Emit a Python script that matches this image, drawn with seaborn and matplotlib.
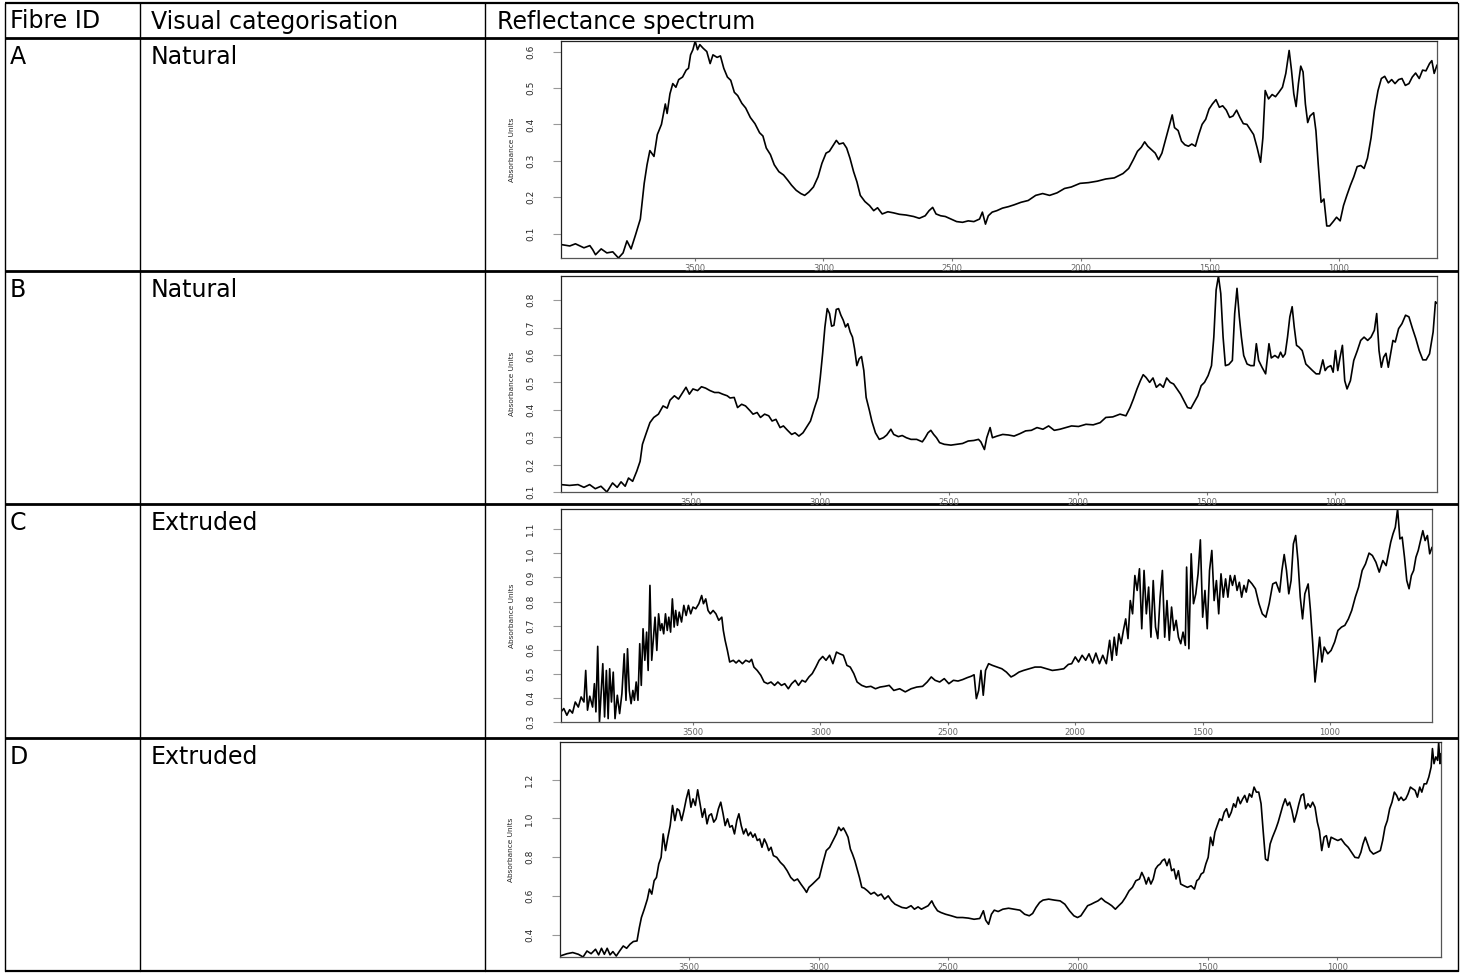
import numpy as np
import pandas as pd
import matplotlib
matplotlib.use("Agg")
import matplotlib.pyplot as plt
import seaborn as sns
from matplotlib.lines import Line2D

sns.set_theme(style="ticks")
plt.rcParams["font.family"] = ["DejaVu Sans"]

# ---- table content -------------------------------------------------------
headers = ["Fibre ID", "Visual categorisation", "Reflectance spectrum"]
fibre_ids = ["A", "B", "C", "D"]
categories = ["Natural", "Natural", "Extruded", "Extruded"]

# ---- spectra: (wavenumber cm-1, absorbance units) ---------------------------
spectrum_a = [
    (4019, 0.070), (3985, 0.066), (3963, 0.072), (3930, 0.061), (3907, 0.067), (3896, 0.056),
    (3885, 0.042), (3863, 0.058), (3841, 0.047), (3818, 0.050), (3796, 0.033), (3778, 0.047),
    (3763, 0.080), (3747, 0.058), (3729, 0.098), (3711, 0.140), (3696, 0.238), (3685, 0.289),
    (3674, 0.328), (3658, 0.312), (3645, 0.372), (3629, 0.400), (3614, 0.456), (3607, 0.430),
    (3596, 0.484), (3585, 0.512), (3573, 0.502), (3562, 0.523), (3547, 0.530), (3533, 0.549),
    (3524, 0.554), (3516, 0.591), (3507, 0.605), (3498, 0.629), (3489, 0.605), (3480, 0.619),
    (3467, 0.609), (3453, 0.600), (3440, 0.567), (3429, 0.591), (3413, 0.584), (3400, 0.588),
    (3387, 0.554), (3373, 0.530), (3360, 0.521), (3346, 0.488), (3333, 0.479), (3317, 0.458),
    (3302, 0.445), (3284, 0.419), (3266, 0.402), (3248, 0.377), (3235, 0.368), (3222, 0.335),
    (3206, 0.317), (3191, 0.289), (3173, 0.270), (3155, 0.261), (3139, 0.247), (3124, 0.233),
    (3106, 0.219), (3088, 0.210), (3073, 0.205), (3057, 0.214), (3039, 0.228), (3021, 0.256),
    (3006, 0.293), (2990, 0.321), (2977, 0.326), (2961, 0.344), (2950, 0.356), (2939, 0.346),
    (2923, 0.349), (2910, 0.335), (2897, 0.307), (2883, 0.270), (2870, 0.242), (2857, 0.205),
    (2839, 0.188), (2821, 0.177), (2805, 0.163), (2790, 0.171), (2772, 0.154), (2750, 0.160),
    (2728, 0.157), (2705, 0.153), (2679, 0.151), (2650, 0.147), (2628, 0.142), (2605, 0.149),
    (2590, 0.163), (2576, 0.172), (2563, 0.154), (2545, 0.149), (2527, 0.147), (2505, 0.140),
    (2483, 0.133), (2460, 0.131), (2438, 0.135), (2416, 0.133), (2394, 0.140), (2383, 0.159),
    (2371, 0.126), (2360, 0.149), (2345, 0.159), (2327, 0.163), (2305, 0.170), (2282, 0.174),
    (2260, 0.179), (2233, 0.186), (2205, 0.191), (2176, 0.205), (2149, 0.210), (2122, 0.205),
    (2093, 0.212), (2064, 0.224), (2038, 0.228), (2004, 0.238), (1971, 0.240), (1937, 0.244),
    (1904, 0.250), (1871, 0.253), (1837, 0.265), (1815, 0.279), (1797, 0.303), (1781, 0.326),
    (1766, 0.337), (1753, 0.352), (1741, 0.340), (1726, 0.330), (1712, 0.321), (1699, 0.303),
    (1686, 0.321), (1670, 0.363), (1659, 0.391), (1646, 0.426), (1637, 0.391), (1623, 0.383),
    (1610, 0.354), (1597, 0.344), (1583, 0.340), (1570, 0.346), (1556, 0.340), (1543, 0.372),
    (1530, 0.400), (1516, 0.414), (1503, 0.442), (1490, 0.456), (1476, 0.468), (1463, 0.447),
    (1450, 0.451), (1436, 0.439), (1423, 0.419), (1410, 0.423), (1396, 0.439), (1383, 0.419),
    (1370, 0.402), (1356, 0.400), (1343, 0.386), (1330, 0.372), (1316, 0.335), (1303, 0.296),
    (1294, 0.363), (1285, 0.493), (1272, 0.470), (1258, 0.482), (1245, 0.476), (1232, 0.488),
    (1218, 0.502), (1205, 0.540), (1192, 0.603), (1183, 0.549), (1174, 0.484), (1165, 0.449),
    (1156, 0.512), (1147, 0.560), (1138, 0.544), (1129, 0.456), (1120, 0.405), (1111, 0.423),
    (1097, 0.432), (1088, 0.382), (1079, 0.289), (1068, 0.186), (1057, 0.195), (1046, 0.121),
    (1035, 0.121), (1021, 0.133), (1008, 0.145), (994, 0.135), (981, 0.177), (968, 0.205),
    (954, 0.233), (941, 0.256), (928, 0.284), (914, 0.287), (901, 0.279), (888, 0.307),
    (874, 0.363), (861, 0.437), (847, 0.493), (834, 0.526), (821, 0.532), (807, 0.514),
    (794, 0.523), (781, 0.512), (767, 0.523), (754, 0.526), (741, 0.507), (727, 0.512),
    (714, 0.530), (701, 0.541), (687, 0.526), (674, 0.549), (661, 0.547), (647, 0.567),
    (638, 0.575), (629, 0.540), (618, 0.563),
]

spectrum_b = [
    (4005, 0.127), (3972, 0.124), (3939, 0.127), (3916, 0.117), (3894, 0.127), (3872, 0.112),
    (3850, 0.121), (3827, 0.100), (3805, 0.133), (3787, 0.117), (3772, 0.137), (3756, 0.121),
    (3743, 0.151), (3727, 0.139), (3711, 0.176), (3698, 0.212), (3689, 0.274), (3676, 0.310),
    (3660, 0.353), (3645, 0.372), (3627, 0.384), (3609, 0.414), (3593, 0.406), (3582, 0.435),
    (3565, 0.451), (3549, 0.439), (3533, 0.463), (3520, 0.482), (3507, 0.457), (3493, 0.476),
    (3475, 0.470), (3460, 0.484), (3444, 0.479), (3427, 0.470), (3409, 0.463), (3393, 0.463),
    (3378, 0.457), (3360, 0.451), (3349, 0.443), (3333, 0.445), (3320, 0.408), (3304, 0.420),
    (3289, 0.414), (3271, 0.396), (3260, 0.384), (3244, 0.390), (3231, 0.372), (3215, 0.384),
    (3199, 0.378), (3186, 0.359), (3171, 0.365), (3155, 0.335), (3142, 0.341), (3126, 0.325),
    (3110, 0.310), (3097, 0.316), (3082, 0.304), (3066, 0.316), (3053, 0.335), (3037, 0.359),
    (3021, 0.408), (3008, 0.445), (2999, 0.518), (2990, 0.604), (2981, 0.702), (2972, 0.769),
    (2963, 0.751), (2955, 0.705), (2946, 0.708), (2937, 0.766), (2928, 0.769), (2919, 0.745),
    (2910, 0.727), (2901, 0.702), (2892, 0.714), (2883, 0.684), (2874, 0.665), (2866, 0.623),
    (2857, 0.561), (2848, 0.586), (2839, 0.594), (2830, 0.543), (2821, 0.445), (2808, 0.396),
    (2799, 0.359), (2785, 0.316), (2770, 0.292), (2754, 0.298), (2741, 0.308), (2725, 0.329),
    (2714, 0.310), (2696, 0.302), (2681, 0.306), (2665, 0.298), (2647, 0.292), (2625, 0.292),
    (2603, 0.283), (2592, 0.298), (2581, 0.316), (2570, 0.325), (2559, 0.310), (2548, 0.298),
    (2536, 0.280), (2518, 0.274), (2492, 0.271), (2469, 0.274), (2447, 0.277), (2425, 0.286),
    (2403, 0.288), (2385, 0.292), (2376, 0.283), (2362, 0.255), (2353, 0.298), (2340, 0.335),
    (2331, 0.298), (2313, 0.304), (2291, 0.310), (2269, 0.308), (2247, 0.304), (2224, 0.313),
    (2202, 0.323), (2180, 0.325), (2158, 0.335), (2135, 0.329), (2113, 0.341), (2091, 0.325),
    (2069, 0.329), (2046, 0.335), (2024, 0.341), (1997, 0.339), (1968, 0.347), (1940, 0.345),
    (1913, 0.353), (1891, 0.372), (1864, 0.374), (1836, 0.384), (1813, 0.378), (1797, 0.408),
    (1784, 0.439), (1770, 0.476), (1757, 0.506), (1746, 0.528), (1735, 0.518), (1721, 0.500),
    (1708, 0.516), (1695, 0.482), (1681, 0.494), (1668, 0.482), (1655, 0.516), (1641, 0.500),
    (1628, 0.494), (1615, 0.476), (1601, 0.457), (1588, 0.433), (1574, 0.408), (1561, 0.405),
    (1548, 0.427), (1534, 0.451), (1521, 0.488), (1508, 0.500), (1494, 0.525), (1481, 0.561),
    (1472, 0.665), (1463, 0.837), (1454, 0.888), (1445, 0.824), (1436, 0.665), (1427, 0.561),
    (1414, 0.565), (1400, 0.580), (1391, 0.751), (1382, 0.843), (1373, 0.739), (1365, 0.665),
    (1356, 0.598), (1343, 0.567), (1329, 0.561), (1316, 0.561), (1307, 0.641), (1298, 0.580),
    (1285, 0.555), (1271, 0.531), (1258, 0.641), (1249, 0.589), (1235, 0.598), (1222, 0.589),
    (1213, 0.610), (1204, 0.592), (1195, 0.604), (1186, 0.665), (1177, 0.739), (1168, 0.776),
    (1160, 0.702), (1151, 0.635), (1142, 0.629), (1129, 0.616), (1115, 0.567), (1102, 0.555),
    (1089, 0.543), (1075, 0.531), (1062, 0.531), (1049, 0.582), (1040, 0.543), (1031, 0.555),
    (1018, 0.561), (1009, 0.537), (1000, 0.616), (991, 0.543), (982, 0.592), (973, 0.635),
    (964, 0.506), (955, 0.476), (942, 0.506), (929, 0.580), (915, 0.616), (902, 0.653),
    (889, 0.665), (875, 0.653), (862, 0.665), (849, 0.690), (840, 0.751), (831, 0.616),
    (822, 0.555), (813, 0.592), (804, 0.606), (795, 0.555), (786, 0.604), (777, 0.653),
    (768, 0.647), (755, 0.696), (742, 0.714), (728, 0.745), (715, 0.739), (701, 0.696),
    (688, 0.659), (675, 0.616), (661, 0.582), (648, 0.582), (635, 0.604), (621, 0.684),
    (612, 0.794), (606, 0.788),
]

spectrum_c = [
    (4018, 0.342), (4007, 0.356), (3995, 0.328), (3984, 0.351), (3973, 0.337), (3962, 0.383),
    (3950, 0.362), (3939, 0.404), (3928, 0.383), (3921, 0.514), (3914, 0.349), (3905, 0.407),
    (3894, 0.362), (3887, 0.459), (3881, 0.342), (3874, 0.614), (3867, 0.300), (3860, 0.431),
    (3854, 0.542), (3847, 0.321), (3840, 0.514), (3833, 0.314), (3827, 0.521), (3820, 0.383),
    (3813, 0.507), (3806, 0.314), (3797, 0.411), (3788, 0.335), (3779, 0.418), (3770, 0.583),
    (3763, 0.390), (3757, 0.604), (3750, 0.431), (3743, 0.376), (3736, 0.431), (3730, 0.390),
    (3723, 0.466), (3716, 0.390), (3709, 0.625), (3703, 0.452), (3696, 0.687), (3689, 0.556),
    (3682, 0.673), (3676, 0.514), (3669, 0.867), (3662, 0.556), (3655, 0.652), (3649, 0.735),
    (3642, 0.597), (3635, 0.749), (3628, 0.680), (3622, 0.708), (3615, 0.666), (3608, 0.749),
    (3601, 0.680), (3595, 0.735), (3588, 0.673), (3581, 0.811), (3574, 0.694), (3568, 0.763),
    (3561, 0.701), (3554, 0.756), (3545, 0.715), (3536, 0.784), (3527, 0.742), (3518, 0.784),
    (3509, 0.749), (3500, 0.777), (3489, 0.770), (3477, 0.791), (3466, 0.825), (3459, 0.791),
    (3450, 0.811), (3441, 0.763), (3432, 0.749), (3421, 0.763), (3410, 0.749), (3399, 0.722),
    (3387, 0.735), (3381, 0.680), (3374, 0.639), (3365, 0.597), (3356, 0.549), (3342, 0.556),
    (3331, 0.545), (3320, 0.556), (3306, 0.542), (3293, 0.556), (3279, 0.549), (3270, 0.560),
    (3261, 0.528), (3248, 0.514), (3234, 0.494), (3221, 0.466), (3207, 0.459), (3194, 0.466),
    (3180, 0.452), (3167, 0.466), (3153, 0.452), (3140, 0.459), (3126, 0.438), (3113, 0.459),
    (3099, 0.473), (3086, 0.452), (3072, 0.473), (3059, 0.466), (3045, 0.487), (3032, 0.501),
    (3018, 0.528), (3005, 0.556), (2991, 0.572), (2978, 0.556), (2964, 0.577), (2951, 0.542),
    (2937, 0.590), (2924, 0.583), (2910, 0.577), (2896, 0.535), (2883, 0.528), (2869, 0.501),
    (2856, 0.466), (2838, 0.452), (2820, 0.445), (2802, 0.448), (2784, 0.438), (2766, 0.445),
    (2748, 0.448), (2730, 0.452), (2712, 0.431), (2689, 0.438), (2667, 0.425), (2644, 0.438),
    (2622, 0.445), (2599, 0.448), (2581, 0.466), (2565, 0.487), (2550, 0.473), (2532, 0.466),
    (2514, 0.480), (2496, 0.459), (2478, 0.473), (2460, 0.470), (2442, 0.476), (2424, 0.484),
    (2408, 0.490), (2397, 0.496), (2388, 0.397), (2379, 0.431), (2370, 0.514), (2361, 0.411),
    (2352, 0.514), (2340, 0.542), (2325, 0.535), (2306, 0.528), (2288, 0.521), (2270, 0.507),
    (2252, 0.487), (2239, 0.494), (2221, 0.507), (2203, 0.514), (2180, 0.521), (2158, 0.528),
    (2135, 0.528), (2113, 0.521), (2090, 0.514), (2068, 0.517), (2045, 0.521), (2027, 0.539),
    (2014, 0.542), (2000, 0.570), (1987, 0.549), (1973, 0.577), (1959, 0.556), (1946, 0.583),
    (1932, 0.545), (1919, 0.586), (1905, 0.542), (1892, 0.577), (1878, 0.542), (1865, 0.639),
    (1856, 0.556), (1847, 0.652), (1838, 0.577), (1829, 0.666), (1820, 0.625), (1811, 0.680),
    (1802, 0.728), (1793, 0.646), (1784, 0.804), (1775, 0.749), (1766, 0.908), (1757, 0.846),
    (1748, 0.936), (1739, 0.687), (1730, 0.929), (1721, 0.749), (1712, 0.860), (1703, 0.652),
    (1694, 0.887), (1685, 0.694), (1676, 0.646), (1667, 0.818), (1658, 0.929), (1649, 0.652),
    (1640, 0.804), (1631, 0.639), (1622, 0.777), (1613, 0.680), (1604, 0.722), (1595, 0.652),
    (1586, 0.625), (1577, 0.673), (1568, 0.618), (1563, 0.943), (1554, 0.604), (1545, 0.998),
    (1536, 0.791), (1527, 0.832), (1518, 0.915), (1509, 1.056), (1500, 0.735), (1491, 0.846),
    (1482, 0.687), (1473, 0.929), (1464, 1.012), (1455, 0.804), (1446, 0.887), (1437, 0.749),
    (1428, 0.915), (1419, 0.818), (1410, 0.894), (1401, 0.818), (1392, 0.908), (1383, 0.867),
    (1374, 0.908), (1365, 0.846), (1356, 0.880), (1347, 0.818), (1338, 0.867), (1329, 0.839),
    (1320, 0.890), (1306, 0.873), (1293, 0.853), (1279, 0.791), (1266, 0.749), (1252, 0.735),
    (1239, 0.791), (1225, 0.873), (1212, 0.880), (1198, 0.839), (1189, 0.929), (1180, 0.995),
    (1171, 0.929), (1162, 0.832), (1153, 0.887), (1144, 1.039), (1135, 1.074), (1126, 0.970),
    (1117, 0.818), (1108, 0.728), (1099, 0.832), (1086, 0.873), (1077, 0.763), (1068, 0.625),
    (1059, 0.466), (1050, 0.556), (1041, 0.652), (1032, 0.549), (1023, 0.611), (1009, 0.583),
    (996, 0.597), (982, 0.632), (969, 0.680), (955, 0.694), (942, 0.701), (928, 0.728),
    (915, 0.763), (901, 0.818), (888, 0.860), (874, 0.929), (861, 0.956), (847, 1.001),
    (834, 0.991), (820, 0.963), (807, 0.922), (793, 0.970), (780, 0.949), (771, 0.998),
    (762, 1.046), (753, 1.081), (744, 1.108), (735, 1.184), (726, 1.060), (717, 1.067),
    (708, 0.984), (699, 0.887), (690, 0.853), (681, 0.908), (672, 0.929), (663, 0.984),
    (654, 1.012), (645, 1.053), (636, 1.094), (627, 1.053), (618, 1.074), (609, 0.998),
    (600, 1.025),
]

spectrum_d = [
    (3998, 0.289), (3971, 0.301), (3949, 0.307), (3927, 0.298), (3909, 0.284), (3894, 0.315),
    (3878, 0.301), (3861, 0.324), (3849, 0.295), (3838, 0.329), (3827, 0.298), (3816, 0.329),
    (3805, 0.295), (3794, 0.312), (3781, 0.289), (3768, 0.315), (3754, 0.341), (3741, 0.329),
    (3728, 0.350), (3715, 0.364), (3701, 0.367), (3692, 0.436), (3684, 0.488), (3673, 0.531),
    (3661, 0.583), (3653, 0.635), (3644, 0.609), (3635, 0.678), (3626, 0.695), (3617, 0.765),
    (3608, 0.799), (3600, 0.920), (3591, 0.834), (3582, 0.903), (3573, 0.963), (3564, 1.067),
    (3555, 0.989), (3546, 1.050), (3538, 1.041), (3529, 0.989), (3520, 1.041), (3511, 1.101),
    (3502, 1.148), (3493, 1.058), (3485, 1.101), (3476, 1.067), (3467, 1.148), (3458, 1.076),
    (3449, 1.006), (3440, 1.050), (3431, 0.972), (3423, 1.015), (3414, 1.024), (3405, 0.981),
    (3396, 0.998), (3387, 1.050), (3378, 1.084), (3369, 1.024), (3361, 0.963), (3352, 0.998),
    (3343, 0.955), (3334, 0.963), (3325, 0.920), (3316, 0.989), (3308, 1.024), (3299, 0.963),
    (3290, 0.920), (3281, 0.946), (3272, 0.911), (3263, 0.929), (3254, 0.903), (3246, 0.920),
    (3237, 0.886), (3228, 0.894), (3219, 0.851), (3210, 0.894), (3201, 0.868), (3193, 0.834),
    (3184, 0.851), (3175, 0.808), (3162, 0.799), (3148, 0.773), (3135, 0.756), (3122, 0.730),
    (3108, 0.695), (3095, 0.678), (3082, 0.687), (3069, 0.661), (3055, 0.635), (3047, 0.618),
    (3038, 0.644), (3024, 0.661), (3011, 0.678), (2998, 0.695), (2985, 0.765), (2971, 0.834),
    (2958, 0.851), (2945, 0.886), (2932, 0.920), (2923, 0.955), (2914, 0.937), (2905, 0.951),
    (2896, 0.929), (2887, 0.903), (2878, 0.842), (2870, 0.816), (2861, 0.782), (2852, 0.739),
    (2843, 0.695), (2834, 0.644), (2825, 0.640), (2812, 0.626), (2799, 0.609), (2786, 0.618),
    (2772, 0.600), (2759, 0.609), (2746, 0.583), (2732, 0.600), (2719, 0.574), (2706, 0.557),
    (2693, 0.549), (2679, 0.540), (2662, 0.536), (2644, 0.549), (2631, 0.531), (2617, 0.543),
    (2604, 0.531), (2591, 0.540), (2578, 0.549), (2564, 0.574), (2555, 0.549), (2542, 0.523),
    (2529, 0.514), (2511, 0.505), (2489, 0.497), (2467, 0.488), (2445, 0.488), (2423, 0.485),
    (2401, 0.479), (2379, 0.483), (2365, 0.523), (2356, 0.474), (2345, 0.453), (2334, 0.505),
    (2323, 0.526), (2308, 0.519), (2290, 0.531), (2268, 0.536), (2246, 0.531), (2224, 0.526),
    (2206, 0.505), (2188, 0.497), (2175, 0.509), (2162, 0.540), (2148, 0.566), (2135, 0.578),
    (2113, 0.583), (2091, 0.578), (2069, 0.574), (2051, 0.557), (2033, 0.523), (2016, 0.497),
    (2002, 0.488), (1989, 0.497), (1976, 0.523), (1963, 0.549), (1949, 0.557), (1936, 0.566),
    (1923, 0.574), (1910, 0.588), (1896, 0.571), (1883, 0.561), (1870, 0.549), (1856, 0.531),
    (1843, 0.549), (1830, 0.566), (1817, 0.592), (1803, 0.626), (1790, 0.644), (1777, 0.678),
    (1763, 0.687), (1754, 0.721), (1745, 0.695), (1737, 0.661), (1728, 0.695), (1719, 0.661),
    (1710, 0.687), (1701, 0.739), (1692, 0.756), (1683, 0.765), (1675, 0.782), (1666, 0.790),
    (1657, 0.756), (1648, 0.790), (1639, 0.730), (1630, 0.739), (1622, 0.687), (1613, 0.730),
    (1604, 0.661), (1591, 0.652), (1578, 0.644), (1564, 0.652), (1551, 0.635), (1542, 0.678),
    (1534, 0.687), (1525, 0.713), (1516, 0.721), (1507, 0.765), (1498, 0.799), (1489, 0.903),
    (1480, 0.860), (1472, 0.929), (1463, 0.963), (1454, 0.998), (1445, 0.989), (1436, 1.032),
    (1427, 1.050), (1418, 1.006), (1409, 1.032), (1400, 1.076), (1392, 1.058), (1383, 1.110),
    (1374, 1.076), (1365, 1.101), (1357, 1.119), (1348, 1.084), (1339, 1.127), (1330, 1.110),
    (1321, 1.162), (1312, 1.136), (1303, 1.136), (1294, 1.076), (1286, 0.937), (1277, 0.790),
    (1268, 0.782), (1259, 0.868), (1250, 0.903), (1237, 0.946), (1228, 0.981), (1219, 1.024),
    (1210, 1.067), (1201, 1.101), (1192, 1.067), (1184, 1.084), (1175, 1.041), (1166, 0.981),
    (1157, 1.024), (1148, 1.076), (1139, 1.119), (1130, 1.127), (1122, 1.050), (1113, 1.076),
    (1104, 1.058), (1095, 1.084), (1086, 1.058), (1077, 0.981), (1069, 0.937), (1060, 0.834),
    (1051, 0.903), (1042, 0.911), (1033, 0.851), (1024, 0.903), (1011, 0.894), (998, 0.886),
    (985, 0.894), (971, 0.868), (958, 0.851), (945, 0.825), (932, 0.799), (918, 0.796),
    (909, 0.825), (901, 0.868), (892, 0.903), (883, 0.868), (874, 0.834), (861, 0.816),
    (847, 0.825), (834, 0.834), (825, 0.886), (816, 0.955), (807, 0.989), (798, 1.050),
    (789, 1.084), (780, 1.136), (771, 1.119), (763, 1.093), (754, 1.110), (745, 1.093),
    (736, 1.101), (727, 1.127), (718, 1.162), (709, 1.153), (700, 1.145), (691, 1.110),
    (682, 1.162), (674, 1.136), (665, 1.179), (656, 1.179), (647, 1.214), (638, 1.266),
    (633, 1.361), (627, 1.283), (620, 1.318), (613, 1.300), (609, 1.395), (604, 1.283),
    (600, 1.335),
]

spectra = [spectrum_a, spectrum_b, spectrum_c, spectrum_d]
yticks = [
    [0.1, 0.2, 0.3, 0.4, 0.5, 0.6],
    [0.1, 0.2, 0.3, 0.4, 0.5, 0.6, 0.7, 0.8],
    [0.3, 0.4, 0.5, 0.6, 0.7, 0.8, 0.9, 1.0, 1.1],
    [0.4, 0.6, 0.8, 1.0, 1.2],
]
xticks = [3500, 3000, 2500, 2000, 1500, 1000]
ylabel = "Absorbance Units"

# ---- layout (figure pixels) --------------------------------------------------
W, H = 1462, 973
col_x = [5, 140, 485, 1458]
text_x = [10, 151, 497]
row_y = [3, 38, 271, 504, 738, 971]
panels = [  # left, right, top, bottom of each spectrum frame
    (561, 1437, 41, 258),
    (561, 1437, 276, 492),
    (561, 1432, 509, 722),
    (560, 1441, 742, 957),
]

fig = plt.figure(figsize=(W / 100, H / 100), dpi=100)
fig.patch.set_facecolor("white")

grid = fig.add_axes([0, 0, 1, 1])
grid.set_xlim(0, W)
grid.set_ylim(H, 0)
grid.axis("off")

# table rules
for x in col_x:
    grid.add_line(Line2D([x, x], [row_y[0], row_y[-1]], color="black", lw=1.0))
for i, y in enumerate(row_y):
    grid.add_line(Line2D([col_x[0], col_x[-1]], [y, y], color="black",
                         lw=1.6 if i in (0, len(row_y) - 1) else 2.0,
                         solid_capstyle="butt"))

cell_font = dict(fontsize=17, color="black", ha="left", family="DejaVu Sans")
for x, txt in zip(text_x, headers):
    grid.text(x, (row_y[0] + row_y[1]) / 2 + 1, txt, va="center", **cell_font)
for i, (fid, cat) in enumerate(zip(fibre_ids, categories)):
    top = row_y[i + 1] + 7
    grid.text(text_x[0], top, fid, va="top", **cell_font)
    grid.text(text_x[1], top, cat, va="top", **cell_font)

narrow = ["Liberation Sans Narrow", "DejaVu Sans"]

for spec, yt, (l, r, t, b) in zip(spectra, yticks, panels):
    df = pd.DataFrame(spec, columns=["wavenumber", "absorbance"])
    ax = fig.add_axes([l / W, 1 - b / H, (r - l) / W, (b - t) / H])
    sns.lineplot(data=df, x="wavenumber", y="absorbance", ax=ax, color="black",
                 lw=1.2, estimator=None, sort=False)
    ax.set_xlim(df["wavenumber"].max(), df["wavenumber"].min())
    ax.set_ylim(df["absorbance"].min(), df["absorbance"].max())
    ax.set_xticks(xticks)
    ax.set_xticklabels([str(v) for v in xticks])
    ax.set_yticks(yt)
    ax.set_yticklabels([f"{v:.1f}" for v in yt])
    ax.set_xlabel("")
    ax.set_ylabel(ylabel, fontsize=5.3, family=narrow, labelpad=8)
    ax.tick_params(axis="y", direction="out", length=5.5, width=0.8, color="#999999",
                   labelsize=6.5, pad=13, labelrotation=90)
    ax.tick_params(axis="x", direction="out", length=2.5, width=0.8, color="#777777",
                   labelsize=6, pad=2, labelcolor="#666666")
    for lab in ax.get_yticklabels():
        lab.set_family(narrow)
        lab.set_va("center")
    for side, sp in ax.spines.items():
        sp.set_color("#222222" if side in ("left", "top") else "#555555")
        sp.set_linewidth(0.9)
    ax.set_facecolor("white")

fig.savefig("out.png", dpi=100, facecolor="white")
